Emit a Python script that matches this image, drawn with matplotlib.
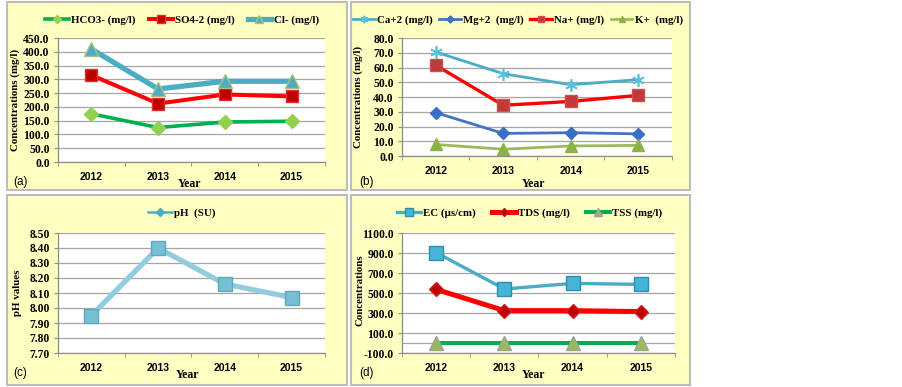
import matplotlib
matplotlib.use("Agg")
import matplotlib.pyplot as plt
from matplotlib.patches import Rectangle
from matplotlib.lines import Line2D
from matplotlib.ticker import FixedLocator, FormatStrFormatter

# === 資料 ===
years = ["2012", "2013", "2014", "2015"]

hco3 = [175, 125, 145, 148]
so4 = [315, 212, 245, 238]
cl = [410, 265, 293, 293]

ca = [70.5, 55.8, 48.3, 51.8]
mg = [29.4, 15.3, 15.8, 15.0]
na = [61.5, 34.4, 37.0, 41.1]
k_ion = [7.8, 4.6, 6.8, 7.2]

ph = [7.95, 8.40, 8.16, 8.07]

ec = [904, 540, 596, 586]
tds = [536, 324, 324, 314]
tss = [5, 5, 5, 5]

# === 版面 (像素) ===
W, H = 903, 387
SERIF = "Liberation Serif"
SANS = "Liberation Sans"
BG = "#FFFFC2"


def rect(x0, y0, x1, y1):
    return [x0 / W, 1 - y1 / H, (x1 - x0) / W, (y1 - y0) / H]


def ftxt(x, y, s, **kw):
    fig.text(x / W, 1 - y / H, s, **kw)


fig = plt.figure(figsize=(W / 100, H / 100), dpi=100)
fig.patch.set_facecolor("white")

panels = [(7, 2, 347, 190), (351, 2, 690, 190), (7, 195, 347, 385), (351, 195, 690, 385)]
for x0, y0, x1, y1 in panels:
    fig.patches.append(Rectangle((x0 / W, 1 - y1 / H), (x1 - x0) / W, (y1 - y0) / H,
                                 transform=fig.transFigure, facecolor=BG,
                                 edgecolor="#BDBDBD", linewidth=1.5, zorder=-1))


def setup_axes(box, ymin, ymax, step, fmt):
    ax = fig.add_axes(rect(*box))
    ax.set_facecolor("white")
    ax.set_xlim(-0.5, 3.5)
    ax.set_ylim(ymin, ymax)
    n = int(round((ymax - ymin) / step))
    yt = [ymin + i * step for i in range(n + 1)]
    ax.yaxis.set_major_locator(FixedLocator(yt))
    ax.yaxis.set_major_formatter(FormatStrFormatter(fmt))
    ax.grid(axis="y", color="#A6A6A6", linewidth=0.9)
    ax.set_axisbelow(True)
    for s in ["top", "right"]:
        ax.spines[s].set_visible(False)
    for s in ["left", "bottom"]:
        ax.spines[s].set_color("#8C8C8C")
        ax.spines[s].set_linewidth(0.9)
    ax.set_xticks(range(4))
    ax.set_xticklabels(years)
    ax.set_xticks([-0.5, 0.5, 1.5, 2.5, 3.5], minor=True)
    ax.tick_params(axis="x", which="major", length=0, pad=7)
    ax.tick_params(axis="x", which="minor", length=3, color="#8C8C8C", direction="out")
    ax.tick_params(axis="y", length=3, color="#8C8C8C", pad=3)
    for t in ax.get_xticklabels():
        t.set_fontfamily(SANS)
        t.set_fontweight("bold")
        t.set_fontsize(7.5)
    for t in ax.get_yticklabels():
        t.set_fontfamily(SERIF)
        t.set_fontweight("bold")
        t.set_fontsize(8.4)
    return ax


x = range(4)
leg_font = {"family": SERIF, "weight": "bold", "size": 7.8}
lab_kw = dict(family=SERIF, weight="bold", size=7.8)
year_kw = dict(ha="center", va="center", family=SERIF, weight="bold", size=8.5)

# === (a) 陰離子 ===
ax = setup_axes((58, 38, 325, 162), 0, 450, 50, "%.1f")
ax.plot(x, hco3, color="#00B050", lw=2.6, marker="D", ms=7.5, mfc="#92D050", mec="#92D050",
        label="HCO3- (mg/l)")
ax.plot(x, so4, color="#FF0000", lw=2.9, marker="s", ms=8.5, mfc="#C00000", mec="#E03030",
        label="SO4-2 (mg/l)")
ax.plot(x, cl, color="#4BACC6", lw=3.8, marker="^", ms=10, mfc="#4BACC6", mec="#A9C27A",
        label="Cl- (mg/l)")
h, l = ax.get_legend_handles_labels()
fig.legend(h, l, loc="center", bbox_to_anchor=(182 / W, 1 - 20 / H), ncol=3, frameon=False,
           prop=leg_font, handlelength=2.2, columnspacing=1.2, handletextpad=0.2, markerscale=0.6)
ftxt(15, 100, "Concentrations (mg/l)", rotation=90, ha="center", va="center", **lab_kw)
ftxt(190, 184, "Year", **year_kw)
ftxt(13, 182, "(a)", ha="left", va="center", family=SANS, size=8.5)

# === (b) 陽離子 ===
ax = setup_axes((402, 38, 672, 156), 0, 80, 10, "%.1f")
ax.plot(x, ca, color="#4BACC6", lw=2.0, marker=(6, 2, 0), ms=9, mec="#5BC0DE", mew=1.2,
        label="Ca+2 (mg/l)")
ax.plot(x, mg, color="#4472C4", lw=2.0, marker="D", ms=6, mfc="#3A6FC8", mec="#3A6FC8",
        label="Mg+2  (mg/l)")
ax.plot(x, na, color="#FF0000", lw=2.4, marker="s", ms=8, mfc="#C0393B", mec="#D05050",
        label="Na+ (mg/l)")
ax.plot(x, k_ion, color="#9BBB59", lw=2.0, marker="^", ms=8, mfc="#8DB346", mec="#8DB346",
        label="K+  (mg/l)")
h, l = ax.get_legend_handles_labels()
fig.legend(h, l, loc="center", bbox_to_anchor=(518 / W, 1 - 20 / H), ncol=4, frameon=False,
           prop=leg_font, handlelength=2.0, columnspacing=0.6, handletextpad=0.2, markerscale=0.6)
ftxt(358, 97, "Concentrations (mg/l)", rotation=90, ha="center", va="center", **lab_kw)
ftxt(534, 184, "Year", **year_kw)
ftxt(359, 182, "(b)", ha="left", va="center", family=SANS, size=8.5)

# === (c) pH ===
ax = setup_axes((58, 233, 325, 353), 7.70, 8.50, 0.10, "%.2f")
ax.plot(x, ph, color="#93CDDD", lw=3.8, marker="s", ms=10, mfc="#78BFD4", mec="#5EA7BF", mew=1.0)
ph_handle = Line2D([], [], color="#4BACC6", lw=1.8, marker="D", ms=4, mfc="#4BACC6")
fig.legend([ph_handle], ["pH  (SU)"], loc="center", bbox_to_anchor=(182 / W, 1 - 213 / H),
           frameon=False, prop=leg_font, handlelength=2.2, handletextpad=0.2)
ftxt(17, 293, "pH values", rotation=90, ha="center", va="center", **lab_kw)
ftxt(188, 375, "Year", **year_kw)
ftxt(13, 373, "(c)", ha="left", va="center", family=SANS, size=8.5)

# === (d) EC / TDS / TSS ===
ax = setup_axes((402, 233, 675, 353), -100, 1100, 200, "%.1f")
ax.axhline(0, color="#A6A6A6", lw=0.9, zorder=1)
ax.plot(x, ec, color="#4BACC6", lw=2.4, marker="s", ms=10.5, mfc="#45B4D6", mec="#2C8FB0",
        label="EC (\u00b5s/cm)")
ax.plot(x, tds, color="#FF0000", lw=3.6, marker="D", ms=7, mfc="#C00000", mec="#D02020",
        label="TDS (mg/l)")
ax.plot(x, tss, color="#00B050", lw=2.9, marker="^", ms=10, mfc="#9BBB59", mec="#A0A0A0",
        label="TSS (mg/l)")
h, l = ax.get_legend_handles_labels()
fig.legend(h, l, loc="center", bbox_to_anchor=(530 / W, 1 - 213 / H), ncol=3, frameon=False,
           prop=leg_font, handlelength=2.2, columnspacing=1.5, handletextpad=0.2, markerscale=0.6)
ftxt(360, 290, "Concentrations", rotation=90, ha="center", va="center", **lab_kw)
ftxt(534, 375, "Year", **year_kw)
ftxt(359, 373, "(d)", ha="left", va="center", family=SANS, size=8.5)

fig.savefig("out.png", dpi=100)
plt.close(fig)
